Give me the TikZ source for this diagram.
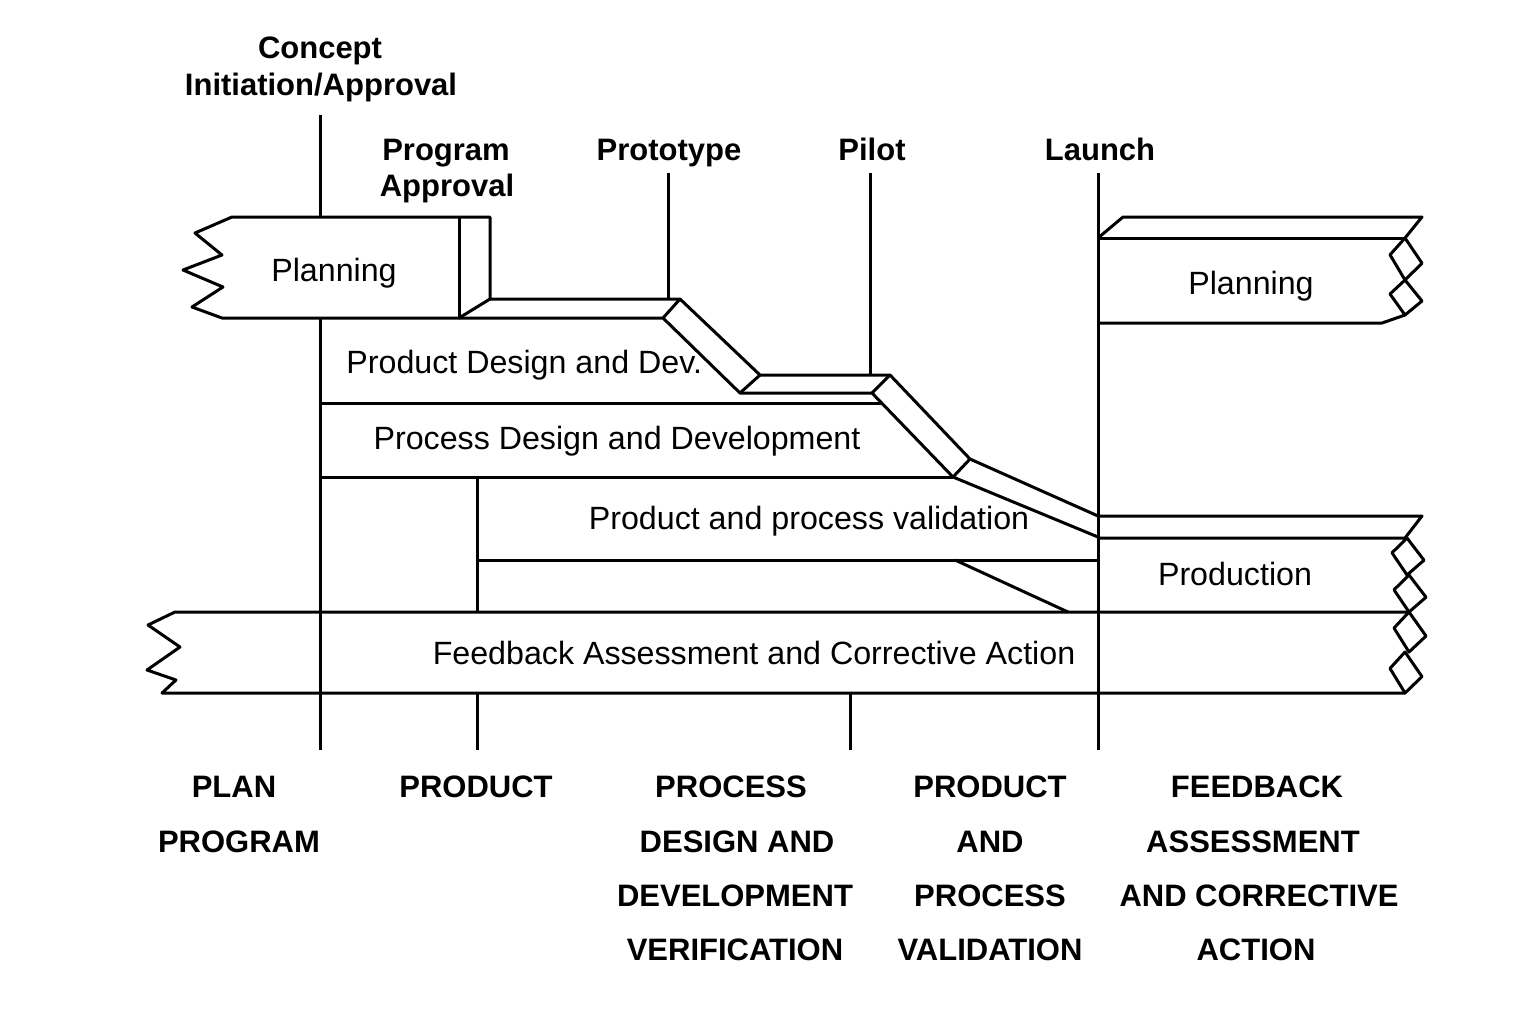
\documentclass[tikz,border=0pt]{standalone}
\usepackage{fontspec}
\setmainfont{Liberation Sans}
\newcommand\mydiam[3]{\draw[ln] (#1,#2) -- ({#1-15},{#2+0.4*(#3-#2)}) -- (#1,#3) -- ({#1+17},{#2+0.6*(#3-#2)}) -- cycle;}
\begin{document}
\begin{tikzpicture}[x=0.5pt,y=-0.5pt,
  ln/.style={line width=1.5pt, line join=round},
  every node/.style={inner sep=0pt},
  body/.style={font=\fontsize{16.1}{19}\selectfont, anchor=base},
  lab/.style={font=\bfseries\fontsize{15.5}{18}\selectfont, anchor=base}]
\useasboundingbox (0,0) rectangle (1536,1024);
\fill[white] (0,0) rectangle (1536,1024);

% left planning block
\draw[ln] (232,217) -- (490,217) -- (490,299) -- (459,318) -- (222,318) -- (192,307) -- (223,287) -- (183,270) -- (222,255) -- (195,233) -- cycle;
\draw[ln] (459,217) -- (459,318);

% staircase
\draw[ln] (490,299) -- (680,299) -- (760,375) -- (890,375) -- (970,459) -- (1098,516);
\draw[ln] (459,318) -- (663,318) -- (740,393) -- (872,393) -- (953,477) -- (1098,537);
\draw[ln] (680,299) -- (663,318);
\draw[ln] (760,375) -- (740,393);
\draw[ln] (890,375) -- (872,393);
\draw[ln] (970,459) -- (953,477);

% band bottoms
\draw[ln] (320,403) -- (881,403);
\draw[ln] (320,477) -- (953,477);
\draw[ln] (477,560) -- (1098,560);
\draw[ln] (955,560) -- (1068,612);

% vertical milestone lines
\draw[ln] (320,115) -- (320,217);
\draw[ln] (320,318) -- (320,750);
\draw[ln] (477,477) -- (477,612);
\draw[ln] (477,693) -- (477,750);
\draw[ln] (668,173) -- (668,299);
\draw[ln] (870,173) -- (870,375);
\draw[ln] (850,693) -- (850,750);
\draw[ln] (1098,173) -- (1098,750);

% right planning block
\draw[ln] (1098,238) -- (1123,217) -- (1422,217) -- (1405,238);
\draw[ln] (1098,238) -- (1405,238);
\mydiam{1405}{238}{280}
\mydiam{1405}{280}{315}
\draw[ln] (1405,315) -- (1382,323) -- (1098,323);

% production block
\draw[ln] (1098,516) -- (1422,516) -- (1405,538) -- (1098,538);
\mydiam{1407}{538}{575}
\mydiam{1409}{575}{612}

% feedback bar
\draw[ln] (1410,612) -- (175,612) -- (148,625) -- (180,647) -- (147,670) -- (176,680) -- (162,693) -- (1405,693);
\mydiam{1409}{612}{652}
\mydiam{1405}{652}{693}

% milestone labels
\node[lab] (c1) at (320,58) {Concept};
\node[lab] (c2) at (321,95) {Initiation/Approval};
\node[lab] (pa1) at (446,160) {Program};
\node[lab] (pa2) at (447,196) {Approval};
\node[lab] (pt) at (669,160) {Prototype};
\node[lab] (pi) at (872,160) {Pilot};
\node[lab] (la) at (1100,160) {Launch};

% band labels
\node[body] (pl1) at (334,281) {Planning};
\node[body, anchor=base west] (pdd) at (346,373) {Product Design and Dev.};
\node[body] (pdv) at (617,449) {Process Design and Development};
\node[body] (ppv) at (809,529) {Product and process validation};
\node[body] (pl2) at (1251,294) {Planning};
\node[body] (prd) at (1235,585) {Production};
\node[body] (fac) at (754,664) {Feedback Assessment and Corrective Action};

% phase labels
\node[lab] (b1a) at (234,797) {PLAN};
\node[lab] (b1b) at (239,852) {PROGRAM};
\node[lab] (b2a) at (476,797) {PRODUCT};
\node[lab] (b3a) at (731,797) {PROCESS};
\node[lab] (b3b) at (737,852) {DESIGN AND};
\node[lab] (b3c) at (735,906) {DEVELOPMENT};
\node[lab] (b3d) at (735,960) {VERIFICATION};
\node[lab] (b4a) at (990,797) {PRODUCT};
\node[lab] (b4b) at (990,852) {AND};
\node[lab] (b4c) at (990,906) {PROCESS};
\node[lab] (b4d) at (990,960) {VALIDATION};
\node[lab] (b5a) at (1257,797) {FEEDBACK};
\node[lab] (b5b) at (1253,852) {ASSESSMENT};
\node[lab] (b5c) at (1259,906) {AND CORRECTIVE};
\node[lab] (b5d) at (1256,960) {ACTION};
\end{tikzpicture}
\end{document}
